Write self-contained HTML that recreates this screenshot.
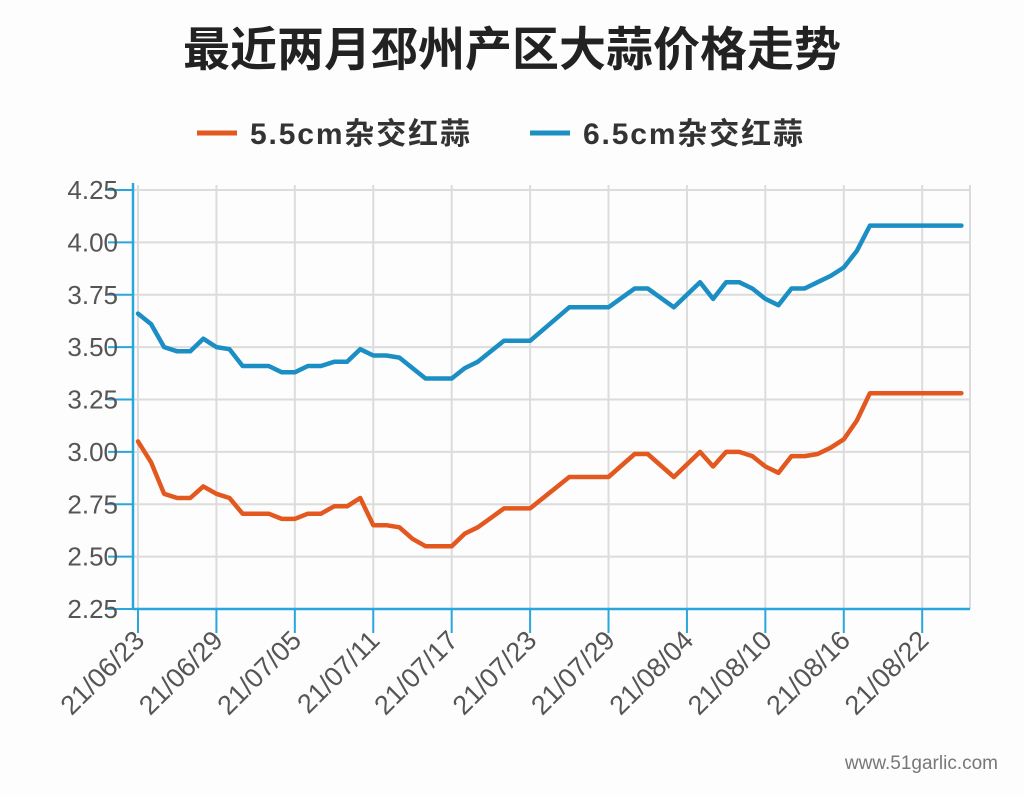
<!DOCTYPE html>
<html><head><meta charset="utf-8">
<style>
html,body{margin:0;padding:0;background:#fdfdfd;}
body{width:1024px;height:790px;overflow:hidden;font-family:"Liberation Sans","Noto Sans CJK SC",sans-serif;}
</style></head>
<body>
<svg id="chart" width="1024" height="790" xmlns="http://www.w3.org/2000/svg" font-family="Liberation Sans, Noto Sans CJK SC, sans-serif">
  <text x="512" y="66" text-anchor="middle" font-size="47" font-weight="bold" fill="#222">最近两月邳州产区大蒜价格走势</text>
  <g>
    <g>
      <line x1="197" y1="133" x2="237" y2="133" stroke="#e2581f" stroke-width="5"/>
      <text x="250" y="144" font-size="30" font-weight="bold" fill="#333" textLength="220">5.5cm杂交红蒜</text>
    </g>
    <g>
      <line x1="530" y1="133" x2="570" y2="133" stroke="#1b8fc4" stroke-width="5"/>
      <text x="583" y="144" font-size="30" font-weight="bold" fill="#333" textLength="220">6.5cm杂交红蒜</text>
    </g>
  </g>
  <g id="grid"></g>
  <g id="axes"></g>
  <g id="series"></g>
  <text x="998" y="769" text-anchor="end" font-size="19" fill="#777">www.51garlic.com</text>
</svg>
<script>
const xTickLabels = ["21/06/23","21/06/29","21/07/05","21/07/11","21/07/17","21/07/23","21/07/29","21/08/04","21/08/10","21/08/16","21/08/22"];
const xTickDays = [0,6,12,18,24,30,36,42,48,54,60];
const yTicks = [2.25,2.50,2.75,3.00,3.25,3.50,3.75,4.00,4.25];
const yTickLabels = ["2.25","2.50","2.75","3.00","3.25","3.50","3.75","4.00","4.25"];
const pointDays = [0,1,2,3,4,5,6,7,8,9,10,11,12,13,14,15,16,17,18,19,20,21,22,23,24,25,26,27,28,29,30,33,36,38,39,41,43,44,45,46,47,48,49,50,51,52,53,54,55,56,63];
const series55 = [3.05,2.95,2.80,2.78,2.78,2.835,2.80,2.78,2.705,2.705,2.705,2.68,2.68,2.705,2.705,2.74,2.74,2.78,2.65,2.65,2.64,2.585,2.55,2.55,2.55,2.61,2.64,2.685,2.73,2.73,2.73,2.88,2.88,2.99,2.99,2.88,3.00,2.93,3.00,3.00,2.98,2.93,2.90,2.98,2.98,2.99,3.02,3.06,3.15,3.28,3.28];
const series65 = [3.66,3.61,3.50,3.48,3.48,3.54,3.50,3.49,3.41,3.41,3.41,3.38,3.38,3.41,3.41,3.43,3.43,3.49,3.46,3.46,3.45,3.40,3.35,3.35,3.35,3.40,3.43,3.48,3.53,3.53,3.53,3.69,3.69,3.78,3.78,3.69,3.81,3.73,3.81,3.81,3.78,3.73,3.70,3.78,3.78,3.81,3.84,3.88,3.96,4.08,4.08];

const NS="http://www.w3.org/2000/svg";
const X0=138, PXDAY=13.07, YTOP=190, YBOT=609, VMIN=2.25, VMAX=4.25, XL=133, XR=970;
const xScale=d=>X0+d*PXDAY;
const yScale=v=>YBOT-(v-VMIN)/(VMAX-VMIN)*(YBOT-YTOP);
function mk(tag,attrs,parent){const e=document.createElementNS(NS,tag);for(const k in attrs)e.setAttribute(k,attrs[k]);parent.appendChild(e);return e;}
const grid=document.getElementById('grid'), axes=document.getElementById('axes'), ser=document.getElementById('series');

yTicks.forEach((v,i)=>{
  const y=yScale(v);
  const gl=mk('line',{x1:XL,x2:XR,y1:y,y2:y,stroke:'#dcdcdc','stroke-width':2},grid);
  
  
  const tk=mk('line',{x1:108,x2:XL,y1:y,y2:y,stroke:'#29a6dc','stroke-width':2},axes);
  
  
  const t=mk('text',{x:118,y:y+9,'text-anchor':'end','font-size':26,fill:'#555'},axes);
  
  
  t.textContent=yTickLabels[i];
});
xTickDays.forEach((d,i)=>{
  const x=xScale(d);
  const gl=mk('line',{x1:x,x2:x,y1:185,y2:YBOT,stroke:'#dcdcdc','stroke-width':2},grid);
  
  
  const tk=mk('line',{x1:x,x2:x,y1:YBOT,y2:633,stroke:'#29a6dc','stroke-width':2},axes);
  
  
  const t=mk('text',{x:x+8,y:642,'text-anchor':'end','font-size':27,fill:'#555',transform:`rotate(-45 ${x+8} 642)`},axes);
  
  
  t.textContent=xTickLabels[i];
});
const rg=mk('line',{x1:XR,x2:XR,y1:185,y2:YBOT,stroke:'#dcdcdc','stroke-width':2},grid);


const ya=mk('line',{x1:XL,x2:XL,y1:183,y2:YBOT+1,stroke:'#29a6dc','stroke-width':2.5},axes);


const xa=mk('line',{x1:XL,x2:XR,y1:YBOT,y2:YBOT,stroke:'#29a6dc','stroke-width':2.5},axes);



function line(vals,color,name){
  const pts=vals.map((v,i)=>xScale(pointDays[i]).toFixed(1)+','+yScale(v).toFixed(1)).join(' ');
  const p=mk('polyline',{points:pts,fill:'none',stroke:color,'stroke-width':4.5,'stroke-linejoin':'round','stroke-linecap':'round'},ser);
  
  
}
line(series55,'#e2581f','line-5-5cm');
line(series65,'#1b8fc4','line-6-5cm');
</script>
</body></html>
